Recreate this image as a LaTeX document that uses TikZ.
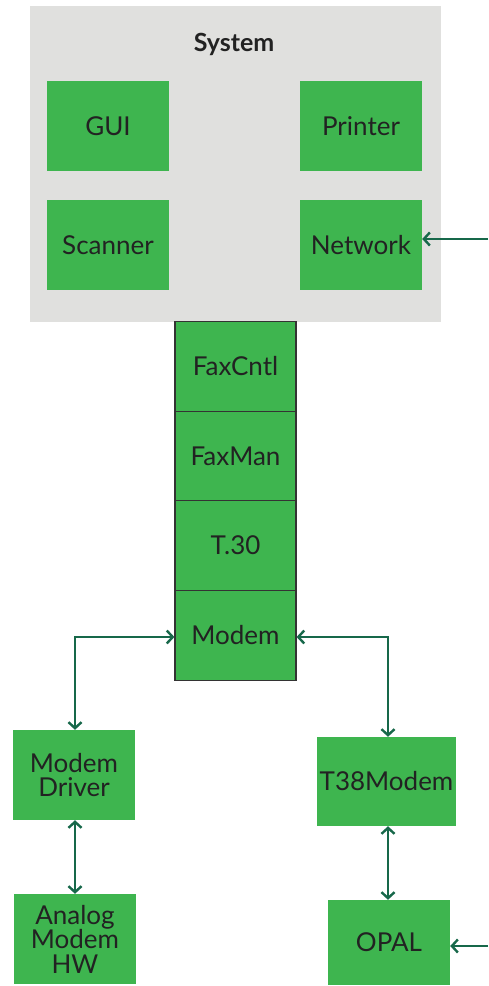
\documentclass[tikz,border=0pt]{standalone}
\usepackage{fontspec}
\setmainfont{Lato}
\usetikzlibrary{arrows.meta}
\definecolor{boxgreen}{HTML}{3EB54F}
\definecolor{panelgrey}{HTML}{E0E0DE}
\definecolor{linkgreen}{HTML}{17684A}
\definecolor{labelink}{HTML}{222222}
\tikzset{
  comp/.style={fill=boxgreen, inner sep=0pt, align=center, text=labelink,
    font=\fontsize{26}{24.5}\selectfont},
  stackbox/.style={comp, draw=black!80, line width=1.2pt},
  link/.style={draw=linkgreen, line width=2.4pt,
    arrows={Straight Barb[length=6pt,width=13pt,line width=2.4pt]-Straight Barb[length=6pt,width=13pt,line width=2.4pt]}},
  feed/.style={draw=linkgreen, line width=2.4pt,
    -{Straight Barb[length=6pt,width=13pt,line width=2.4pt]}}
}
\begin{document}
\begin{tikzpicture}[x=1pt,y=-1pt]
  \useasboundingbox (0,0) rectangle (488,986);
  % system panel
  \fill[panelgrey] (30,6) rectangle (441,322);
  \node[font=\bfseries\fontsize{25}{25}\selectfont, text=labelink] (sys) at (234,44) {System};
  \node[comp, minimum width=122pt, minimum height=90pt] (gui) at (108,126) {GUI};
  \node[comp, minimum width=122pt, minimum height=90pt] (printer) at (361,126) {Printer};
  \node[comp, minimum width=122pt, minimum height=90pt] (scanner) at (108,245) {Scanner};
  \node[comp, minimum width=122pt, minimum height=90pt] (network) at (361,245) {Network};
  % fax stack
  \node[stackbox, minimum width=121pt, minimum height=89.5pt] (faxcntl) at (235.5,366.5) {FaxCntl};
  \node[stackbox, minimum width=121pt, minimum height=89.5pt] (faxman) at (235.5,456) {FaxMan};
  \node[stackbox, minimum width=121pt, minimum height=89.5pt] (t30) at (235.5,545.5) {T.30};
  \node[stackbox, minimum width=121pt, minimum height=89.5pt] (modem) at (235.5,635.5) {Modem};
  % lower components
  \node[comp, minimum width=122pt, minimum height=90pt] (mdrv) at (74,775) {Modem\\Driver};
  \node[comp, minimum width=122pt, minimum height=90pt] (ahw) at (75,939) {Analog\\Modem\\HW};
  \node[comp, minimum width=139pt, minimum height=89pt] (t38) at (386.5,781.5) {T38Modem};
  \node[comp, minimum width=122pt, minimum height=85pt] (opal) at (389,942.5) {OPAL};
  % external inputs
  \coordinate (netin) at (488,239);
  \coordinate (opalin) at (488,946);
  \draw[feed] (netin) -- (network.east |- netin);
  \draw[feed] (opalin) -- (opal.east |- opalin);
  % connections
  \coordinate (lcorner) at (75,637);
  \coordinate (rcorner) at (388,637);
  \draw[link] (mdrv.north -| lcorner) -- (lcorner) -- (modem.west |- lcorner);
  \draw[link] (modem.east |- rcorner) -- (rcorner) -- (t38.north -| rcorner);
  \draw[link] (mdrv.south -| lcorner) -- (ahw.north -| lcorner);
  \draw[link] (t38.south -| rcorner) -- (opal.north -| rcorner);
\end{tikzpicture}
\end{document}
